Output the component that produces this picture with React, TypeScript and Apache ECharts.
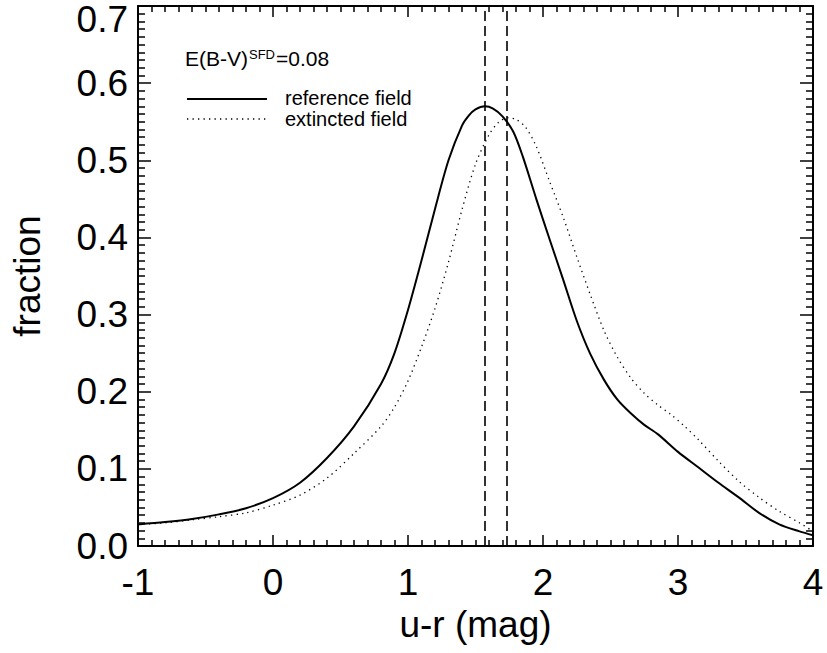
import React, { useEffect, useRef } from "react";
import * as echarts from "echarts";

// reference field curve
const refX = [-1.0, -0.8, -0.6, -0.4, -0.2, 0.0, 0.2, 0.4, 0.6, 0.8, 0.9, 1.0, 1.1, 1.2, 1.3, 1.4, 1.45, 1.5, 1.57, 1.63, 1.7, 1.78, 1.85, 1.95, 2.05, 2.15, 2.25, 2.35, 2.45, 2.55, 2.65, 2.75, 2.85, 3.0, 3.15, 3.3, 3.45, 3.6, 3.75, 3.9, 4.0];
const refY = [0.028, 0.031, 0.035, 0.041, 0.049, 0.062, 0.082, 0.114, 0.155, 0.210, 0.250, 0.306, 0.370, 0.437, 0.500, 0.545, 0.558, 0.566, 0.570, 0.567, 0.557, 0.537, 0.505, 0.450, 0.397, 0.345, 0.292, 0.249, 0.216, 0.190, 0.172, 0.157, 0.145, 0.122, 0.102, 0.082, 0.063, 0.043, 0.028, 0.019, 0.014];

// extincted field curve
const extX = [-1.0, -0.8, -0.6, -0.4, -0.2, 0.0, 0.2, 0.4, 0.6, 0.8, 0.9, 1.0, 1.1, 1.2, 1.3, 1.4, 1.5, 1.6, 1.67, 1.74, 1.8, 1.87, 1.95, 2.05, 2.15, 2.25, 2.35, 2.45, 2.55, 2.65, 2.75, 2.85, 2.95, 3.05, 3.15, 3.3, 3.45, 3.6, 3.75, 3.9, 4.0];
const extY = [0.028, 0.030, 0.034, 0.038, 0.043, 0.053, 0.066, 0.088, 0.120, 0.155, 0.180, 0.214, 0.258, 0.308, 0.368, 0.436, 0.495, 0.533, 0.549, 0.555, 0.553, 0.543, 0.518, 0.472, 0.426, 0.375, 0.326, 0.280, 0.245, 0.218, 0.198, 0.183, 0.170, 0.155, 0.138, 0.110, 0.084, 0.063, 0.045, 0.030, 0.019];

// medians (dashed vertical lines)
const medians = [1.57, 1.73];

const xTickLabels = ["-1", "0", "1", "2", "3", "4"];
const yTickLabels = ["0.0", "0.1", "0.2", "0.3", "0.4", "0.5", "0.6", "0.7"];

const FONT = "'Liberation Sans', Arial, Helvetica, sans-serif";

export default function App() {
  const ref = useRef<HTMLDivElement>(null);
  useEffect(() => {
    if (!ref.current) return;
    const chart = echarts.init(ref.current, null, { renderer: "svg" });
    const axisLine = { show: true, onZero: false, lineStyle: { color: "#000", width: 2 } };
    const xCommon = {
      type: "value",
      min: -1,
      max: 4,
      interval: 1,
      axisLine,
      axisTick: { show: true, inside: true, length: 11, lineStyle: { color: "#000", width: 1.5 } },
      minorTick: { show: true, splitNumber: 10, length: 6, lineStyle: { color: "#000", width: 1.5 } },
      splitLine: { show: false },
    };
    const yCommon = {
      type: "value",
      min: 0,
      max: 0.7,
      interval: 0.1,
      axisLine,
      axisTick: { show: true, inside: true, length: 13, lineStyle: { color: "#000", width: 1.5 } },
      minorTick: { show: true, splitNumber: 10, length: 7, lineStyle: { color: "#000", width: 1.5 } },
      splitLine: { show: false },
    };
    const option = {
      animation: false,
      backgroundColor: "#fff",
      grid: { left: 138, top: 6, right: 14, bottom: 107, containLabel: false },
      xAxis: [
        {
          ...xCommon,
          position: "bottom",
          name: "u-r (mag)",
          nameLocation: "middle",
          nameGap: 50,
          nameTextStyle: { fontSize: 37, fontFamily: FONT, color: "#000" },
          axisLabel: {
            show: true,
            margin: 18,
            fontSize: 37,
            fontFamily: FONT,
            color: "#000",
            formatter: (v: number) => {
              const i = Math.round(v + 1);
              return xTickLabels[i] ?? String(v);
            },
          },
        },
        { ...xCommon, position: "top", axisLabel: { show: false } },
      ],
      yAxis: [
        {
          ...yCommon,
          position: "left",
          name: "fraction",
          nameLocation: "middle",
          nameGap: 92,
          nameTextStyle: { fontSize: 37, fontFamily: FONT, color: "#000" },
          axisLabel: {
            show: true,
            margin: 10,
            fontSize: 37,
            fontFamily: FONT,
            color: "#000",
            formatter: (v: number) => {
              const i = Math.round(v * 10);
              const s = yTickLabels[i] ?? v.toFixed(1);
              return i === 7 ? `{top|${s}}` : s;
            },
            rich: {
              top: { fontSize: 37, fontFamily: FONT, color: "#000", padding: [27, 0, 0, 0] },
            },
          },
        },
        { ...yCommon, position: "right", axisLabel: { show: false } },
      ],
      series: [
        {
          name: "reference field",
          type: "line",
          xAxisIndex: 0,
          yAxisIndex: 0,
          data: refX.map((x, i) => [x, refY[i]]),
          smooth: 0.3,
          showSymbol: false,
          lineStyle: { color: "#000", width: 2 },
          markLine: {
            silent: true,
            symbol: ["none", "none"],
            label: { show: false },
            lineStyle: { color: "#000", width: 1.6, type: [10, 5] },
            data: medians.map((m) => ({ xAxis: m })),
          },
        },
        {
          name: "extincted field",
          type: "line",
          xAxisIndex: 0,
          yAxisIndex: 0,
          data: extX.map((x, i) => [x, extY[i]]),
          smooth: 0.3,
          showSymbol: false,
          lineStyle: { color: "#000", width: 1.3, type: [1.3, 4.2] },
        },
      ],
      graphic: [
        {
          type: "text",
          left: 185,
          top: 48,
          style: {
            text: "{a|E(B-V)}{s|SFD}{a|=0.08}",
            rich: {
              a: { fontSize: 21, fontFamily: FONT, fill: "#000", color: "#000" },
              s: { fontSize: 13, fontFamily: FONT, fill: "#000", color: "#000", verticalAlign: "top", padding: [0, 1, 0, 1] },
            },
          },
        },
        { type: "line", shape: { x1: 187, y1: 99, x2: 267, y2: 99 }, style: { stroke: "#000", lineWidth: 2 } },
        { type: "text", left: 285, top: 88, style: { text: "reference field", fontSize: 20, lineHeight: 20, fontFamily: FONT, fill: "#000" } },
        { type: "line", shape: { x1: 187, y1: 119, x2: 267, y2: 119 }, style: { stroke: "#000", lineWidth: 1.3, lineDash: [1.3, 4.2] } },
        { type: "text", left: 285, top: 109, style: { text: "extincted field", fontSize: 20, lineHeight: 20, fontFamily: FONT, fill: "#000" } },
      ],
    };
    chart.setOption(option as any);
    return () => chart.dispose();
  }, []);
  return (
    <div
      ref={ref}
      style={{ position: "absolute", left: 0, top: 0, width: 827, height: 653, background: "#fff" }}
    />
  );
}
